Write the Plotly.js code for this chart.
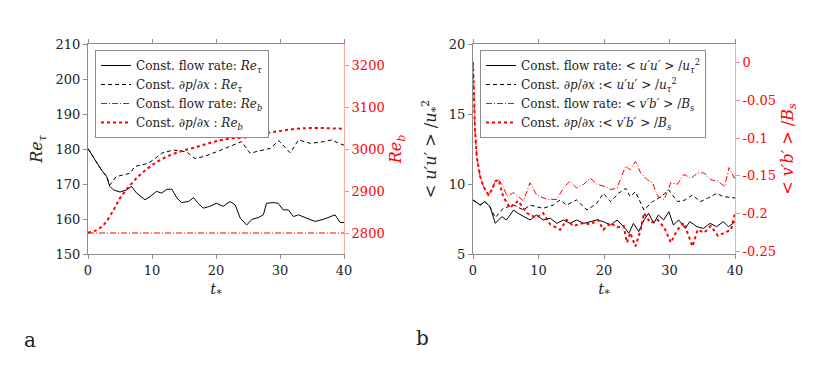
<!DOCTYPE html>
<html>
<head>
<meta charset="utf-8">
<script src="https://cdn.plot.ly/plotly-3.0.1.min.js"></script>
<style>
  html, body { margin: 0; padding: 0; background: #fff; }
  #plot { width: 830px; height: 377px; }
</style>
</head>
<body>
<div id="plot"></div>
<script>
// ---- panel a : Re_tau (left axis) and Re_b (right axis) ----
const tReTauFlow = [0, 1.35, 2.1, 2.9, 3.4, 4, 4.5, 5, 6, 6.8, 7.6, 8.9, 9.7, 10.7, 11.5, 12.3, 13.1, 13.9, 14.6, 15.7,
  16.5, 17.2, 18, 19, 20.1, 21.1, 22.2, 23, 23.8, 24.8, 25.6, 26.6, 27.4, 27.9, 28.9, 29.7, 30.5, 31.3, 32.1, 32.9,
  34.2, 35.5, 36.8, 38.1, 38.6, 39.4, 40];
const reTauFlow = [180.1, 176, 174, 172.2, 169.3, 168.3, 167.9, 167.7, 168.3, 169.3, 167.4, 165.5, 166.4, 167.9, 167.4, 168.5, 168.5, 166, 164.7, 165,
  166.1, 164.5, 163.1, 163.6, 164.5, 163.6, 165, 164, 160.2, 158.3, 159.9, 160.4, 161.2, 164.5, 164.7, 164.5, 162.6, 162.6, 160.7, 161.2,
  160.2, 159.3, 159.9, 160.7, 161.2, 159, 159];

const tReTauGrad = [0, 1.35, 2.1, 2.9, 3.4, 4.4, 6.6, 7.3, 9.4, 10.5, 11.5, 13.3, 15.4, 16.7, 18, 20.1, 22.2, 24, 25.3,
  27.4, 28.5, 29.8, 31.6, 32.9, 34.8, 36.8, 38.1, 39.2, 40];
const reTauGrad = [180.1, 176, 174, 172.2, 169.7, 172.1, 173.1, 175, 175.9, 177.3, 178.8, 179.7, 179.2, 177.3, 177.8, 179.2, 180.7, 182.1, 178.8,
  179.7, 180.2, 182.4, 178.9, 182.6, 181.6, 182.1, 182.6, 181.6, 181.1];

const tRebFlow = [0, 40];
const rebFlow = [2800, 2800];

const tRebGrad = [0, 1.35, 2.65, 4, 5, 6.6, 8.1, 9.7, 11.8, 14.4, 17, 19.6, 22.2, 24.8, 27.4, 30, 32.6, 35.2, 40];
const rebGrad = [2800.7, 2807, 2823, 2855, 2883, 2914, 2938, 2958, 2978, 2994, 3005, 3017, 3025, 3028, 3036, 3043, 3048, 3050, 3048];

// ---- panel b : <u'u'>/u*^2 (left axis) and <v'b'>/B_s (right axis) ----
const tUuFlow = [0, 1.1, 1.8, 2.6, 3.4, 4.4, 5.1, 6.2, 6.9, 7.7, 8.7, 9.7, 10.7, 11.8, 12.8, 13.8, 14.8, 15.8, 16.9, 17.9,
  18.9, 19.9, 21, 22, 23, 23.8, 24.5, 25.3, 26.1, 26.8, 27.6, 28.3, 29.1, 29.9, 30.6, 31.4, 32.4, 33.1, 34.2, 35.2,
  36.2, 37.2, 38.2, 39, 39.7, 40];
const uuFlow = [8.86, 8.5, 8.74, 8.38, 7.19, 7.67, 7.43, 8.14, 7.9, 7.67, 7.43, 7.79, 7.43, 7.55, 7.19, 7.43, 7.19, 7.43, 7.19, 7.31,
  7.43, 7.31, 7.07, 7.43, 6.95, 6.48, 7.19, 6.6, 7.43, 7.9, 7.19, 7.79, 7.43, 8.02, 7.07, 7.43, 6.83, 7.31, 6.95, 6.83,
  7.19, 6.95, 7.31, 6.95, 7.19, 7.3];

const tUuGrad = [0, 1.1, 1.8, 2.6, 3.4, 4.6, 6.2, 7.7, 8.7, 10.7, 12.3, 13.3, 14.3, 15.8, 17.4, 18.9, 19.9, 21, 22.2, 23.3,
  24, 24.8, 26.1, 27.4, 28.7, 29.9, 31.2, 32.4, 33.5, 34.7, 35.8, 37.2, 38.2, 39.7, 40];
const uuGrad = [8.86, 8.5, 8.74, 8.38, 7.6, 8.26, 8.5, 8.14, 8.5, 8.26, 8.5, 8.86, 8.5, 8.86, 8.14, 8.62, 9.33, 8.74, 9.33, 9.69,
  9.1, 9.45, 8.14, 8.74, 9.1, 9.57, 8.74, 8.86, 9.21, 8.74, 8.98, 9.33, 9.1, 8.98, 9.0];

const tVbFlow = [0, 0.15, 0.3, 0.56, 1.07, 1.6, 2.35, 2.9, 3.4, 3.9, 4.6, 5.2, 6.2, 7.7, 8.7, 9.7, 11.3, 12.8, 13.8, 14.8,
  15.8, 16.9, 17.9, 18.9, 20.2, 21, 22, 23.3, 24, 24.8, 25.6, 26.6, 27.4, 28.2, 29.2, 30.2, 31.2, 32.2, 33.3, 34.3,
  35.3, 36.3, 37.4, 38.4, 39.1, 39.9, 40];
const vbFlow = [0.0, -0.045, -0.089, -0.124, -0.15, -0.164, -0.175, -0.168, -0.157, -0.155, -0.164, -0.177, -0.172, -0.183, -0.159, -0.175, -0.181, -0.181, -0.166, -0.157,
  -0.166, -0.161, -0.153, -0.161, -0.164, -0.168, -0.166, -0.137, -0.142, -0.131, -0.146, -0.155, -0.159, -0.177, -0.181, -0.159, -0.161, -0.148, -0.153, -0.146,
  -0.146, -0.155, -0.157, -0.164, -0.139, -0.153, -0.15];

const tVbGrad = [0, 0.15, 0.3, 0.56, 1.07, 1.6, 2.35, 2.9, 3.4, 3.9, 4.6, 5.6, 6.9, 8.2, 9.7, 10.7, 11.8, 13.3, 14.3, 15.3,
  16.9, 17.9, 19.1, 19.9, 21, 22, 23, 23.5, 24, 24.8, 25.6, 26.1, 27.1, 28.2, 29.2, 30.2, 31.2, 32.2, 33.5, 34.3,
  35.3, 36.3, 37.4, 38.4, 39.4, 39.9, 40];
const vbGrad = [0.0, -0.045, -0.089, -0.124, -0.15, -0.164, -0.175, -0.168, -0.157, -0.155, -0.177, -0.192, -0.183, -0.199, -0.205, -0.199, -0.214, -0.221, -0.208, -0.216,
  -0.212, -0.214, -0.208, -0.221, -0.212, -0.218, -0.216, -0.238, -0.225, -0.243, -0.221, -0.199, -0.212, -0.208, -0.218, -0.238, -0.221, -0.212, -0.243, -0.221,
  -0.225, -0.216, -0.229, -0.225, -0.221, -0.203, -0.198];

const tTicks = [0, 10, 20, 30, 40];
const vbTicks = [0, -0.05, -0.1, -0.15, -0.2, -0.25];
const vbTickText = ['0', '-0.05', '-0.1', '-0.15', '-0.2', '-0.25'];

const serif = 'DejaVu Serif';
const gray = '#8c8c8c';
const red = '#ff0000';
const dashDot = '6px,2px,1px,2px';
const W = 830, H = 377;

const traces = [
  {x: tReTauFlow, y: reTauFlow, xaxis: 'x', yaxis: 'y', mode: 'lines', legend: 'legend',
   line: {color: '#000', width: 1}, name: 'Const. flow rate: <i>Re</i><sub><i>τ</i></sub>'},
  {x: tReTauGrad, y: reTauGrad, xaxis: 'x', yaxis: 'y', mode: 'lines', legend: 'legend',
   line: {color: '#000', width: 1, dash: '4px,3px'}, name: 'Const. ∂<i>p</i>/∂<i>x</i> : <i>Re</i><sub><i>τ</i></sub>'},
  {x: tRebFlow, y: rebFlow, xaxis: 'x', yaxis: 'y3', mode: 'lines', legend: 'legend',
   line: {color: red, width: 1, dash: dashDot}, name: 'Const. flow rate: <i>Re</i><sub><i>b</i></sub>'},
  {x: tRebGrad, y: rebGrad, xaxis: 'x', yaxis: 'y3', mode: 'lines', legend: 'legend', line: {shape: 'spline', color: red, width: 2, dash: 'dot'},
   name: 'Const. ∂<i>p</i>/∂<i>x</i> : <i>Re</i><sub><i>b</i></sub>'},

  {x: tUuFlow, y: uuFlow, xaxis: 'x2', yaxis: 'y2', mode: 'lines', legend: 'legend2',
   line: {color: '#000', width: 1}, name: 'Const. flow rate: &lt; <i>u′u′</i> &gt; /<i>u</i><sub><i>τ</i></sub><sup>2</sup>'},
  {x: tUuGrad, y: uuGrad, xaxis: 'x2', yaxis: 'y2', mode: 'lines', legend: 'legend2',
   line: {color: '#000', width: 1, dash: '4px,3px'}, name: 'Const. ∂<i>p</i>/∂<i>x</i> :&lt; <i>u′u′</i> &gt; /<i>u</i><sub><i>τ</i></sub><sup>2</sup>'},
  {x: tVbFlow, y: vbFlow, xaxis: 'x2', yaxis: 'y4', mode: 'lines', legend: 'legend2',
   line: {color: red, width: 1, dash: dashDot}, name: 'Const. flow rate: &lt; <i>v′b′</i> &gt; /<i>B</i><sub><i>s</i></sub>'},
  {x: tVbGrad, y: vbGrad, xaxis: 'x2', yaxis: 'y4', mode: 'lines', legend: 'legend2',
   line: {color: red, width: 2, dash: 'dot'}, name: 'Const. ∂<i>p</i>/∂<i>x</i> :&lt; <i>v′b′</i> &gt; /<i>B</i><sub><i>s</i></sub>'}
];

const yBot = 1 - 254 / H, yTop = 1 - 44 / H;

function xAxis(domain, anchor) {
  return {
    domain: domain, anchor: anchor, range: [0, 40], tickvals: tTicks,
    showline: true, linecolor: gray, linewidth: 1, mirror: 'ticks',
    ticks: 'outside', ticklen: 4, tickcolor: gray, showgrid: false, zeroline: false,
    tickfont: {family: serif, size: 13, color: '#222'},
    title: {text: '<i>t</i><sub>*</sub>', font: {family: serif, size: 15, color: '#222'}, standoff: 6}
  };
}

const layout = {
  width: W, height: H,
  margin: {l: 0, r: 0, t: 0, b: 0},
  paper_bgcolor: '#fff', plot_bgcolor: '#fff',
  font: {family: serif, color: '#222'},
  xaxis: xAxis([88 / W, 344 / W], 'y'),
  xaxis2: xAxis([473 / W, 735 / W], 'y2'),
  yaxis: {
    domain: [yBot, yTop], anchor: 'x', range: [150, 210], dtick: 10,
    showline: true, linecolor: gray, ticks: 'outside', ticklen: 4, tickcolor: gray,
    showgrid: false, zeroline: false, tickfont: {family: serif, size: 13, color: '#222'},
    title: {text: '<i>Re</i><sub><i>τ</i></sub>', font: {family: serif, size: 16, color: '#222'}, standoff: 8}
  },
  yaxis3: {
    overlaying: 'y', side: 'right', anchor: 'x', range: [2750, 3250], dtick: 100,
    showline: true, linecolor: '#ffaaaa', ticks: 'outside', ticklen: 4, tickcolor: '#ff8888',
    showgrid: false, zeroline: false, tickfont: {family: serif, size: 13, color: red},
    title: {text: '<i>Re</i><sub><i>b</i></sub>', font: {family: serif, size: 16, color: red}, standoff: 6}
  },
  yaxis2: {
    domain: [yBot, yTop], anchor: 'x2', range: [5, 20], dtick: 5,
    showline: true, linecolor: gray, ticks: 'outside', ticklen: 4, tickcolor: gray,
    showgrid: false, zeroline: false, tickfont: {family: serif, size: 13, color: '#222'},
    title: {text: '&lt; <i>u′u′</i> &gt; /<i>u</i><sub>*</sub><sup>2</sup>', font: {family: serif, size: 16, color: '#222'}, standoff: 8}
  },
  yaxis4: {
    overlaying: 'y2', side: 'right', anchor: 'x2', range: [-0.253, 0.024],
    tickvals: vbTicks, ticktext: vbTickText,
    showline: true, linecolor: '#ffaaaa', ticks: 'outside', ticklen: 4, tickcolor: '#ff8888',
    showgrid: false, zeroline: false, tickfont: {family: serif, size: 13, color: red},
    title: {text: '&lt; <i>v′b′</i> &gt; /<i>B</i><sub><i>s</i></sub>', font: {family: serif, size: 16, color: red}, standoff: 6}
  },
  legend: {
    x: 95 / W, y: 1 - 50 / H, xanchor: 'left', yanchor: 'top',
    bgcolor: '#fff', bordercolor: gray, borderwidth: 1,
    font: {family: serif, size: 12, color: '#222'}, itemwidth: 30, tracegroupgap: 0
  },
  legend2: {
    x: 480 / W, y: 1 - 50 / H, xanchor: 'left', yanchor: 'top',
    bgcolor: '#fff', bordercolor: gray, borderwidth: 1,
    font: {family: serif, size: 12, color: '#222'}, itemwidth: 30, tracegroupgap: 0
  },
  showlegend: true,
  annotations: [
    {text: 'a', xref: 'paper', yref: 'paper', x: 30 / W, y: 1 - 340 / H, xanchor: 'center', yanchor: 'middle',
     showarrow: false, font: {family: serif, size: 20, color: '#222'}},
    {text: 'b', xref: 'paper', yref: 'paper', x: 422 / W, y: 1 - 338 / H, xanchor: 'center', yanchor: 'middle',
     showarrow: false, font: {family: serif, size: 20, color: '#222'}}
  ]
};

Plotly.newPlot('plot', traces, layout, {displayModeBar: false, staticPlot: true});
</script>
</body>
</html>
